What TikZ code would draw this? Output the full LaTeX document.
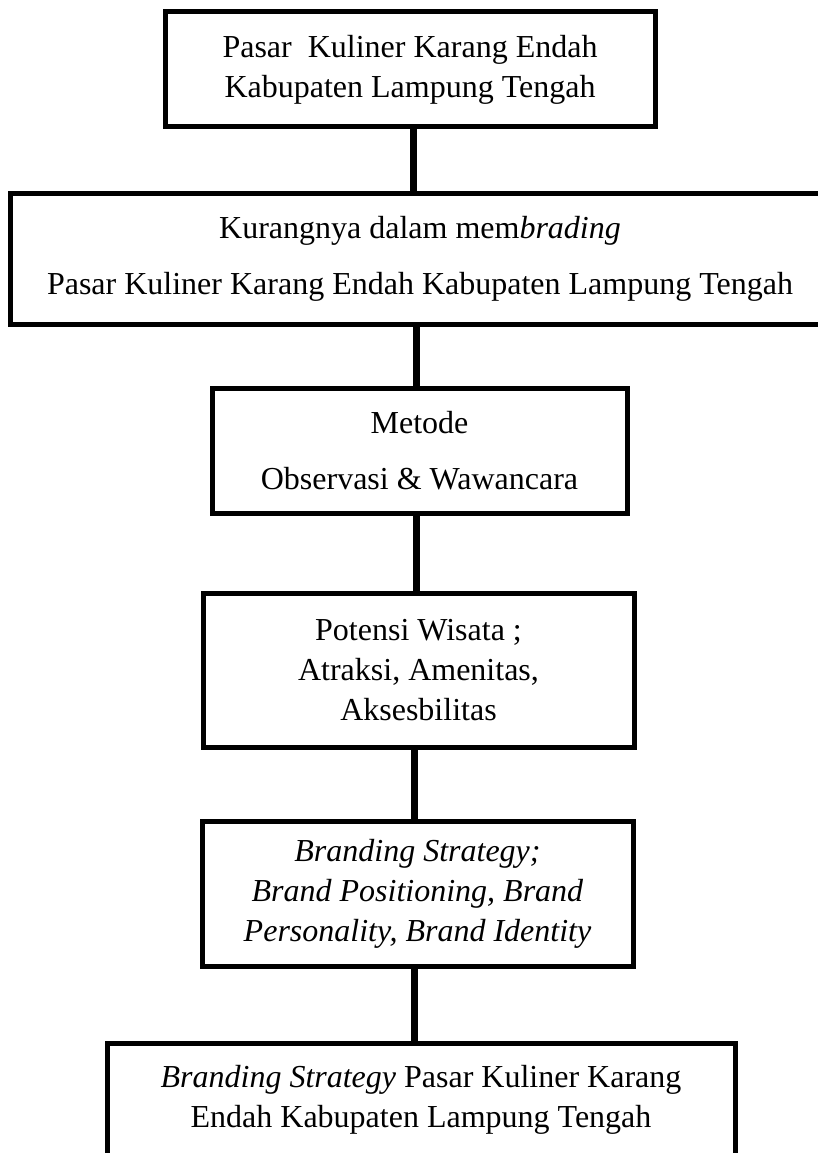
\documentclass[tikz,border=0pt]{standalone}
\usepackage{fontspec}
\setmainfont{Liberation Serif}
\begin{document}
\begin{tikzpicture}[x=1pt,y=-1pt,
 box/.style={draw, line width=5pt, align=center, inner sep=0pt, font=\fontsize{32}{40}\selectfont},
 wide/.style={font=\fontsize{32}{56}\selectfont},
 link/.style={line width=7pt}]
\useasboundingbox (0,0) rectangle (818,1153);
\node[box, minimum width=490pt, minimum height=115pt] (b1) at (410,69.5)
  {Pasar\ \ Kuliner Karang Endah\\Kabupaten Lampung Tengah};
\node[box, wide, minimum width=820pt, minimum height=131pt] (b2) at (420,258.5)
  {Kurangnya dalam mem\textit{brading}\\Pasar Kuliner Karang Endah Kabupaten Lampung Tengah};
\node[box, wide, minimum width=415pt, minimum height=125pt] (b3) at (419.5,450.5)
  {Metode\\Observasi \& Wawancara};
\node[box, minimum width=431pt, minimum height=154pt] (b4) at (418.5,670)
  {Potensi Wisata ;\\Atraksi, Amenitas,\\Aksesbilitas};
\node[box, minimum width=431pt, minimum height=145pt] (b5) at (417.5,893.5)
  {\textit{Branding Strategy;}\\\textit{Brand Positioning, Brand}\\\textit{Personality, Brand Identity}};
\node[box, minimum width=628pt, minimum height=113pt] (b6) at (421,1099.5)
  {\textit{Branding Strategy} Pasar Kuliner Karang\\Endah Kabupaten Lampung Tengah};
\draw[link] (b1.south -| 413,0) -- (b2.north -| 413,0);
\draw[link] (b2.south -| 416,0) -- (b3.north -| 416,0);
\draw[link] (b3.south -| 416,0) -- (b4.north -| 416,0);
\draw[link] (b4.south -| 414,0) -- (b5.north -| 414,0);
\draw[link] (b5.south -| 414,0) -- (b6.north -| 414,0);
\end{tikzpicture}
\end{document}
